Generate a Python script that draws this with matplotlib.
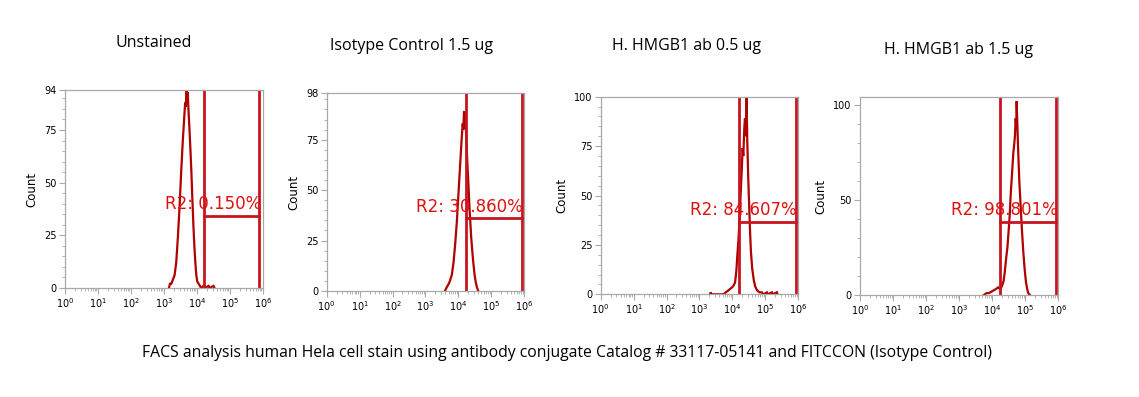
import numpy as np
import matplotlib
matplotlib.use('Agg')
import matplotlib.pyplot as plt
from matplotlib.ticker import FixedLocator, MultipleLocator, LogLocator, NullFormatter

# Panel titles and gate labels:
titles = ['Unstained', 'Isotype Control 1.5 ug', 'H. HMGB1 ab 0.5 ug', 'H. HMGB1 ab 1.5 ug']
gateLabels = ['R2: 0.150%', 'R2: 30.860%', 'R2: 84.607%', 'R2: 98.801%']
caption = 'FACS analysis human Hela cell stain using antibody conjugate Catalog # 33117-05141 and FITCCON (Isotype Control)'

# Histogram data (log10 of intensity, counts):
logX1 = [3.15, 3.18, 3.22, 3.27, 3.32, 3.37, 3.42, 3.47, 3.52, 3.57, 3.61, 3.64, 3.66, 3.68, 3.70, 3.72, 3.74, 3.77, 3.80, 3.83, 3.86, 3.89, 3.92, 3.95, 3.98, 4.01, 4.05, 4.09, 4.12, 4.20, 4.24, 4.35, 4.38, 4.50, 4.53]
cnt1  = [0, 2, 2, 4, 6, 12, 24, 38, 55, 70, 80, 88, 86, 94, 91, 93, 85, 76, 66, 55, 42, 30, 20, 12, 6, 3, 2, 1, 0, 1, 0, 1, 0, 1, 0]

logX2 = [3.59, 3.65, 3.72, 3.80, 3.85, 3.90, 3.95, 4.00, 4.05, 4.10, 4.13, 4.15, 4.17, 4.19, 4.21, 4.24, 4.27, 4.30, 4.34, 4.39, 4.44, 4.49, 4.53, 4.56, 4.60]
cnt2  = [0, 2, 4, 8, 14, 23, 34, 48, 62, 76, 83, 80, 89, 86, 88, 75, 64, 54, 40, 26, 16, 8, 4, 2, 0]

logX3 = [3.33, 3.34, 3.35, 3.73, 3.80, 3.88, 3.95, 4.02, 4.08, 4.12, 4.15, 4.18, 4.21, 4.24, 4.28, 4.31, 4.33, 4.36, 4.38, 4.41, 4.43, 4.45, 4.48, 4.53, 4.56, 4.60, 4.65, 4.69, 4.75, 4.82, 4.89, 4.95, 5.05, 5.08, 5.20, 5.23, 5.35, 5.37]
cnt3  = [0, 1, 0, 0, 1, 2, 3, 4, 6, 12, 20, 27, 36, 47, 62, 74, 70, 84, 89, 80, 100, 78, 59, 34, 22, 13, 7, 4, 2, 1, 1, 0, 1, 0, 1, 0, 1, 0]

logX4 = [3.75, 3.83, 3.90, 4.00, 4.10, 4.18, 4.25, 4.30, 4.34, 4.38, 4.42, 4.46, 4.49, 4.53, 4.56, 4.60, 4.64, 4.67, 4.69, 4.71, 4.73, 4.74, 4.76, 4.79, 4.82, 4.86, 4.90, 4.94, 4.98, 5.02, 5.06, 5.09, 5.14]
cnt4  = [0, 1, 1, 2, 3, 4, 3, 5, 7, 12, 19, 25, 32, 42, 53, 64, 75, 80, 84, 93, 88, 102, 90, 74, 60, 47, 34, 23, 14, 7, 3, 1, 0]

# Gate positions (log10) and the height of the gate bar:
gateLow = [4.20, 4.22, 4.21, 4.24]
gateHigh = [5.89, 5.92, 5.92, 5.93]
gateY = [34.3, 36.0, 36.7, 38.3]

# Axis ranges and y ticks:
yMax = [94, 98, 100, 104]
yTicks = [[0, 25, 50, 75, 94], [0, 25, 50, 75, 98], [0, 25, 50, 75, 100], [0, 50, 100]]
yMinor = [5, 5, 5, 10]

xs = [logX1, logX2, logX3, logX4]
ys = [cnt1, cnt2, cnt3, cnt4]

# Axes positions in pixels (left, top, right, bottom):
W, H = 1139, 397
axBoxes = [(65, 90, 263, 288), (326.7, 93.3, 524.3, 291), (600.7, 96.7, 798.3, 294.3), (860, 97.3, 1058.3, 295)]
titlePos = [(154, 43), (412, 46), (686, 46), (958, 50)]

histColor = '#b00000'
gateColor = '#c8141e'
textColor = '#e01010'
spineColor = '#a8a8a8'

fig = plt.figure(figsize=(W / 100, H / 100), dpi=100)

for i in range(4):

    l, t, r, b = axBoxes[i]
    ax = fig.add_axes([l / W, (H - b) / H, (r - l) / W, (b - t) / H])

    # Histogram outline:
    ax.plot(10 ** np.array(xs[i]), ys[i], color=histColor, lw=1.6, solid_joinstyle='miter')

    # Gate lines:
    ax.axvline(10 ** gateLow[i], color=gateColor, lw=2)
    ax.axvline(10 ** gateHigh[i], color=gateColor, lw=2)
    ax.plot([10 ** gateLow[i], 10 ** gateHigh[i]], [gateY[i], gateY[i]], color=gateColor, lw=2)
    ax.annotate(gateLabels[i], xy=(10 ** gateHigh[i], gateY[i]), xytext=(1, 2), textcoords='offset points',
                ha='right', va='bottom', color=textColor, fontsize=12, family='DejaVu Sans')

    # Scales:
    ax.set_xscale('log')
    ax.set_xlim(1, 1e6)
    ax.set_ylim(0, yMax[i])
    ax.set_xticks([10 ** k for k in range(7)])
    ax.set_xticklabels(['$10^{%d}$' % k for k in range(7)])
    ax.xaxis.set_minor_locator(LogLocator(base=10, subs=np.arange(2, 10), numticks=20))
    ax.xaxis.set_minor_formatter(NullFormatter())
    ax.yaxis.set_major_locator(FixedLocator(yTicks[i]))
    ax.yaxis.set_minor_locator(MultipleLocator(yMinor[i]))

    ax.tick_params(axis='both', which='major', labelsize=7, length=4, color=spineColor, width=0.8, pad=2)
    ax.tick_params(axis='both', which='minor', length=2, color=spineColor, width=0.6)
    for sp in ax.spines.values():
        sp.set_color(spineColor)
        sp.set_linewidth(0.9)

    ax.set_ylabel('Count', fontsize=8.5, labelpad=4)

    # Panel title:
    fig.text(titlePos[i][0] / W, 1 - titlePos[i][1] / H, titles[i], ha='center', va='center',
             fontsize=11.5, family='Open Sans')

# Caption:
fig.text(567 / W, 1 - 353 / H, caption, ha='center', va='center', fontsize=11.3, family='Open Sans')

plt.savefig('out.png', dpi=100)
